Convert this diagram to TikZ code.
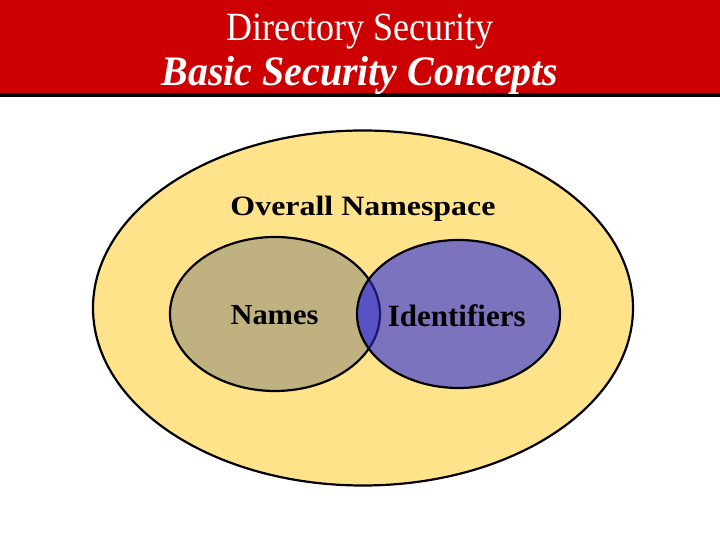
\documentclass[tikz,border=0pt]{standalone}
\usepackage{fontspec}
\setmainfont{Liberation Serif}
\usepackage{graphicx}

\definecolor{bannerred}{RGB}{204,0,0}
\definecolor{spaceyellow}{RGB}{255,227,138}
\definecolor{namestan}{RGB}{192,178,128}
\definecolor{idblue}{RGB}{123,115,190}
\definecolor{bothblue}{RGB}{88,82,196}
\definecolor{edgenavy}{RGB}{25,25,110}

\begin{document}
\begin{tikzpicture}[x=1pt,y=1pt,
      rim/.style={black,line width=2.2pt},
      setlabel/.style={inner sep=0pt,anchor=base,font=\bfseries}]
            \useasboundingbox (0,0) rectangle (720,540);
            \fill [white] (0,0) rectangle (720,540);

            \fill [bannerred] 
               (0,447) rectangle (720,540);
            \fill [black] 
               (0,443) rectangle (720,447);
            \node [anchor=base,inner sep=0pt,white,
                   font=\fontsize{40}{40}\selectfont] (title)
               at (360,499) {\scalebox{0.9}[1]{Directory Security}};
            \node [anchor=base,inner sep=0pt,white,
                   font=\fontsize{42}{42}\selectfont\bfseries\itshape] (subtitle)
               at (360,454) {\scalebox{0.95}[1]{Basic Security Concepts}};

            \fill [spaceyellow] 
               (363,232) ellipse [x radius=270pt,y radius=177.5pt];
            \draw [rim] 
               (363,232) ellipse [x radius=270pt,y radius=177.5pt];

            \fill [namestan] 
               (275,226) ellipse [x radius=105pt,y radius=77pt];
            \draw [rim] 
               (275,226) ellipse [x radius=105pt,y radius=77pt];
            \fill [idblue] 
               (458.5,226) ellipse [x radius=101.5pt,y radius=74pt];
            \begin{scope}
               \clip (275,226) ellipse [x radius=105pt,y radius=77pt];
               \fill [bothblue] 
                  (458.5,226) ellipse [x radius=101.5pt,y radius=74pt];
            \end{scope}
            \begin{scope}
               \clip (458.5,226) ellipse [x radius=101.5pt,y radius=74pt];
               \draw [edgenavy,line width=2.2pt] 
                  (275,226) ellipse [x radius=105pt,y radius=77pt];
            \end{scope}
            \draw [rim] 
               (458.5,226) ellipse [x radius=101.5pt,y radius=74pt];

            \node [setlabel,font=\fontsize{28}{28}\selectfont\bfseries] (overall)
               at (363,324) {\scalebox{1.14}[1]{Overall Namespace}};
            \node [setlabel,font=\fontsize{29}{29}\selectfont\bfseries] (names)
               at (274.5,215) {\scalebox{1.05}[1]{Names}};
            \node [setlabel,font=\fontsize{31}{31}\selectfont\bfseries] (ids)
               at (456.7,213.5) {Identifiers};
         \end{tikzpicture}
\end{document}
